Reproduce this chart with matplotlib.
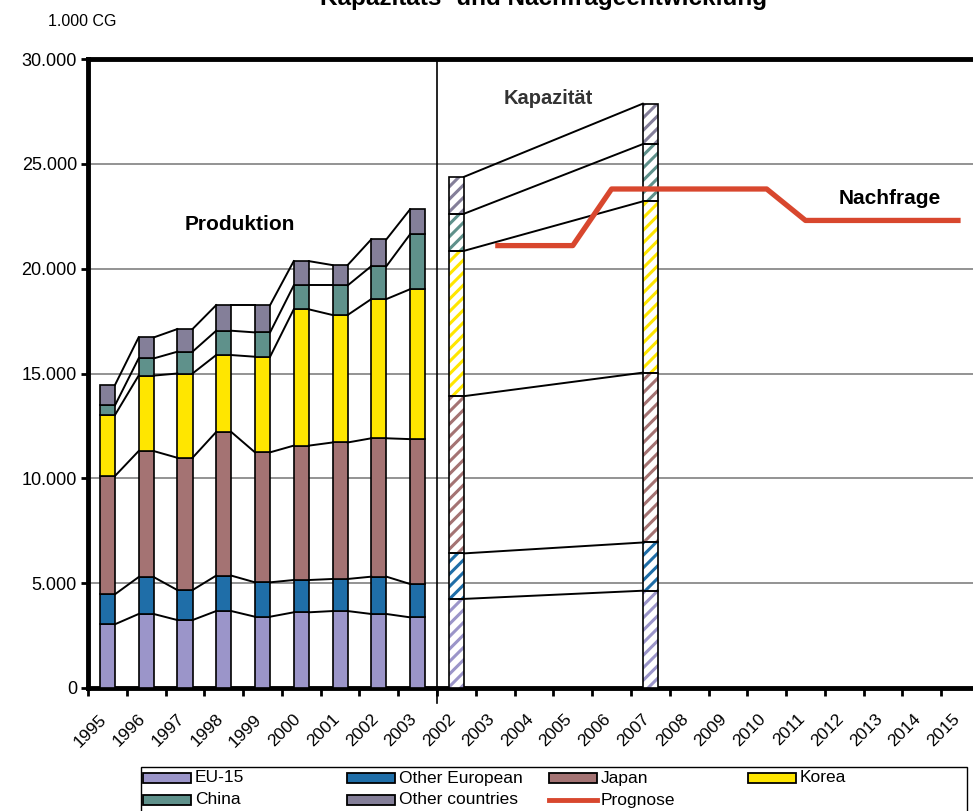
import numpy as np
import matplotlib.pyplot as plt
from matplotlib.patches import Rectangle
from matplotlib.lines import Line2D
from matplotlib.transforms import IdentityTransform
from matplotlib.ticker import FuncFormatter

plt.rcParams['font.family'] = ['Liberation Sans', 'DejaVu Sans']

# ---- data, 1.000 CG ----
prod_years = ['1995', '1996', '1997', '1998', '1999', '2000', '2001', '2002', '2003']
fc_years = ['2002', '2003', '2004', '2005', '2006', '2007', '2008', '2009',
            '2010', '2011', '2012', '2013', '2014', '2015']

regions = ['EU-15', 'Other European', 'Japan', 'Korea', 'China', 'Other countries']
colors = ['#9B95C9', '#1F6EA8', '#A47373', '#FFE600', '#5F918B', '#847F99']

# production per region (stacked)
prod_eu = [3040, 3530, 3240, 3670, 3400, 3610, 3670, 3530, 3370]
prod_oe = [1430, 1760, 1430, 1690, 1640, 1540, 1530, 1780, 1590]
prod_jp = [5640, 6010, 6310, 6850, 6200, 6410, 6510, 6600, 6910]
prod_kr = [2910, 3600, 4020, 3670, 4560, 6500, 6080, 6640, 7150]
prod_cn = [460, 820, 1040, 1160, 1160, 1140, 1410, 1570, 2620]
prod_ot = [970, 1000, 1080, 1220, 1300, 1160, 970, 1280, 1190]

# capacity per region
cap_years = ['2002', '2007']
cap_eu = [4250, 4640]
cap_oe = [2170, 2300]
cap_jp = [7500, 8100]
cap_kr = [6930, 8170]
cap_cn = [1770, 2730]
cap_ot = [1760, 1930]

# demand forecast
demand_years = ['2003', '2004', '2005', '2006', '2007', '2008', '2009',
                '2010', '2011', '2012', '2013', '2014', '2015']
demand = [21100, 21100, 21100, 23800, 23800, 23800, 23800, 23800,
          22300, 22300, 22300, 22300, 22300]

tick_labels = prod_years + fc_years
n_prod = len(prod_years)


def fc_index(year):
    return n_prod + fc_years.index(year)


prod = np.array([prod_eu, prod_oe, prod_jp, prod_kr, prod_cn, prod_ot])
cap = np.array([cap_eu, cap_oe, cap_jp, cap_kr, cap_cn, cap_ot])

fig = plt.figure(figsize=(9.73, 8.11), dpi=100)
ax = fig.add_axes([88 / 973, 1 - 688 / 811, (980 - 88) / 973, (688 - 59) / 811])
ax.set_xlim(0, len(tick_labels))
ax.set_ylim(0, 30000)

W = 0.39
x_prod = np.arange(n_prod) + 0.5
x_cap = np.array([fc_index(y) for y in cap_years]) + 0.5
x_dem = np.array([fc_index(y) for y in demand_years]) + 0.5


def stripe(patch, color, step=12.5, lw=2.2):
    # diagonal "/" stripes in pixel space, clipped to the bar segment
    (x0, y0), (x1, y1) = ax.transData.transform(
        [(patch.get_x(), patch.get_y()),
         (patch.get_x() + patch.get_width(), patch.get_y() + patch.get_height())])
    for d in np.arange(np.floor((x0 - y1) / step) * step, x1 - y0 + step, step):
        ln = Line2D([y0 + d, y1 + d], [y0, y1], transform=IdentityTransform(),
                    color=color, linewidth=lw, zorder=3.5)
        ax.add_line(ln)
        ln.set_clip_path(patch)  # after add_line, which would reset it to the axes


# production: solid stacked bars
bottom = np.zeros(n_prod)
for vals, col in zip(prod, colors):
    ax.bar(x_prod, vals, W, bottom=bottom, color=col, edgecolor='black',
           linewidth=1.2, zorder=3)
    bottom = bottom + vals

# capacity: hatched stacked bars
bottom = np.zeros(len(x_cap))
for vals, col in zip(cap, colors):
    bars = ax.bar(x_cap, vals, W, bottom=bottom, color='white', linewidth=0,
                  zorder=3)
    for p in bars.patches:
        stripe(p, col)
    ax.bar(x_cap, vals, W, bottom=bottom, facecolor='none', edgecolor='black',
           linewidth=1.2, zorder=4)
    bottom = bottom + vals


# series lines between neighbouring bars
def series_lines(xs, stack):
    tops = np.cumsum(stack, axis=0)
    for level in tops:
        for i in range(len(xs) - 1):
            ax.plot([xs[i] + W / 2, xs[i + 1] - W / 2], [level[i], level[i + 1]],
                    color='black', linewidth=1.4, zorder=4)


series_lines(x_prod, prod)
series_lines(x_cap, cap)

# demand forecast
ax.plot(x_dem, demand, color='#D8472E', linewidth=3.8, zorder=6,
        solid_capstyle='butt')

# divider between history and forecast
ax.plot([n_prod, n_prod], [-700, 30000], color='black', linewidth=1.2,
        zorder=5, clip_on=False)

ax.set_yticks(np.arange(0, 30001, 5000))
ax.yaxis.set_major_formatter(FuncFormatter(lambda v, p: f'{int(v):,}'.replace(',', '.')))
ax.tick_params(axis='y', direction='out', length=5, width=2, labelsize=13, pad=3)
ax.grid(axis='y', color='#808080', linewidth=1.2, zorder=0)
ax.set_axisbelow(True)

ax.set_xticks(np.arange(0, len(tick_labels) + 1))
ax.set_xticklabels([])
ax.set_xticks(np.arange(len(tick_labels)) + 0.5, minor=True)
ax.set_xticklabels(tick_labels, minor=True, rotation=45, ha='right', va='baseline',
                   rotation_mode='anchor', fontsize=12.5)
ax.tick_params(axis='x', which='major', direction='out', length=6, width=2)
ax.tick_params(axis='x', which='minor', length=0, pad=23)

for side in ['left', 'top', 'bottom']:
    ax.spines[side].set_linewidth(3.5)
ax.spines['right'].set_visible(False)

# labels
fig.text(543 / 973, 1 - 5 / 811, 'Kapazitäts- und Nachfrageentwicklung',
         ha='center', va='baseline', fontsize=17.5, fontweight='bold')
fig.text(48 / 973, 1 - 21.5 / 811, '1.000 CG', ha='left', va='center', fontsize=11.5)
fig.text(240 / 973, 1 - 225 / 811, 'Produktion', ha='center', va='center',
         fontsize=15, fontweight='bold')
fig.text(548 / 973, 1 - 99 / 811, 'Kapazität', ha='center', va='center',
         fontsize=14.5, fontweight='bold', color='#333333')
fig.text(890 / 973, 1 - 199 / 811, 'Nachfrage', ha='center', va='center',
         fontsize=15, fontweight='bold')

# legend box, laid out row by row
fig.add_artist(Rectangle((141 / 973, 1 - 820 / 811), (967 - 141) / 973, (820 - 767) / 811,
                         transform=fig.transFigure, facecolor='white',
                         edgecolor='black', linewidth=1))
entries = regions + ['Prognose']
col_x = [143, 347, 549, 748]
row_y = [778, 800]
for k, name in enumerate(entries):
    cx = col_x[k % 4]
    cy = row_y[k // 4]
    if name == 'Prognose':
        fig.add_artist(Line2D([cx / 973, (cx + 48) / 973], [1 - cy / 811, 1 - cy / 811],
                              transform=fig.transFigure, color='#D8472E',
                              linewidth=3.5))
    else:
        fig.add_artist(Rectangle((cx / 973, 1 - (cy + 5) / 811), 48 / 973, 10 / 811,
                                 transform=fig.transFigure,
                                 facecolor=colors[regions.index(name)],
                                 edgecolor='black', linewidth=1.3))
    fig.text((cx + 52) / 973, 1 - cy / 811, name, ha='left', va='center',
             fontsize=12.5)

fig.savefig('out.png', dpi=100)
plt.close(fig)
